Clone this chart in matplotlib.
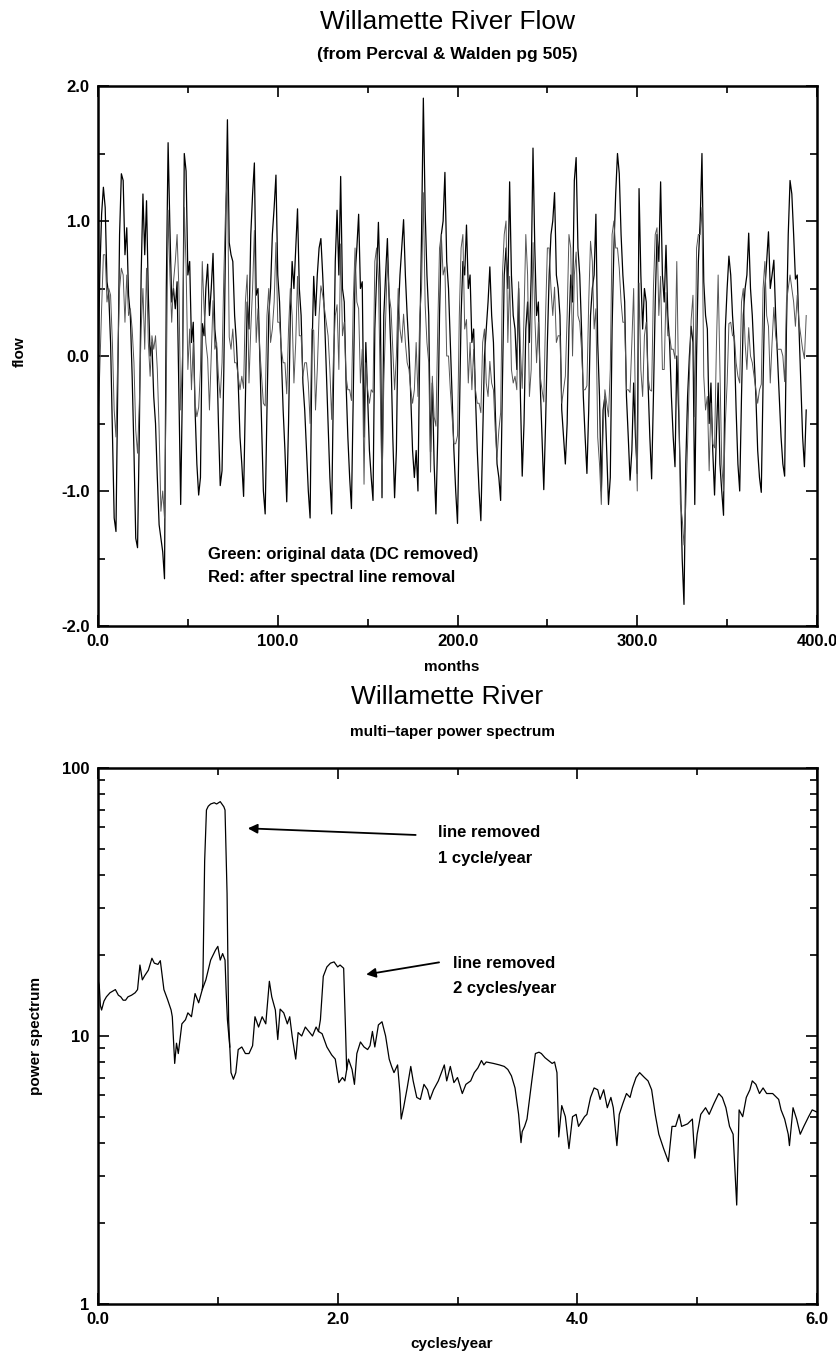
import numpy as np
import matplotlib
matplotlib.use("Agg")
import matplotlib.pyplot as plt
from matplotlib.ticker import MultipleLocator, FormatStrFormatter, FixedLocator, FixedFormatter, LogLocator, NullFormatter

plt.rcParams['font.family'] = ['Liberation Sans', 'DejaVu Sans']

# --- top panel: monthly flow, 395 months ---
flow_orig = [
    -0.10, 0.60, 1.05, 1.25, 1.10, 0.55, 0.45, 0.10, -0.55, -1.20, -1.30, -0.20,
    0.90, 1.35, 1.30, 0.75, 0.95, 0.45, 0.30, -0.15, -0.70, -1.35, -1.42, -0.55,
    0.60, 1.20, 0.75, 1.15, 0.45, 0.00, 0.10, -0.30, -0.50, -0.90, -1.25, -1.35,
    -1.45, -1.65, 0.50, 1.58, 0.95, 0.40, 0.50, 0.35, 0.55, -0.30, -1.10, -0.20,
    1.50, 1.37, 0.60, 0.70, 0.10, 0.25, -0.40, -0.80, -1.03, -0.90, 0.24, 0.15,
    0.50, 0.68, 0.30, 0.50, 0.76, 0.20, 0.05, -0.50, -0.96, -0.85, -0.10, 0.90,
    1.75, 0.84, 0.75, 0.70, 0.30, 0.10, -0.20, -0.60, -0.80, -1.04, -0.30, 0.40,
    0.20, 0.90, 1.20, 1.43, 0.45, 0.50, 0.00, -0.50, -1.00, -1.17, -0.40, 0.30,
    0.50, 0.90, 1.10, 1.34, 0.60, 0.40, 0.00, -0.40, -0.70, -1.08, -0.50, 0.30,
    0.70, 0.50, 0.80, 1.09, 0.50, 0.30, -0.20, -0.40, -0.70, -1.00, -1.20, 0.00,
    0.59, 0.30, 0.60, 0.80, 0.87, 0.60, 0.30, -0.10, -0.50, -0.90, -1.17, -0.20,
    0.70, 1.08, 0.60, 1.33, 0.50, 0.40, -0.20, -0.60, -0.90, -1.13, -0.30, 0.60,
    0.80, 1.05, 0.50, 0.55, -0.60, 0.10, -0.30, -0.70, -0.90, -1.07, 0.20, 0.60,
    0.99, 0.50, -1.05, 0.30, 0.60, 0.87, 0.40, 0.00, -0.60, -1.05, -0.70, 0.30,
    0.60, 0.80, 1.01, 0.60, 0.30, 0.05, -0.30, -0.70, -0.90, -0.70, -1.00, 0.10,
    0.90, 1.91, 1.08, 0.60, 0.30, -0.71, -0.20, -0.80, -1.17, -0.60, 0.30, 0.90,
    1.00, 1.36, 0.70, 0.50, 0.10, -0.30, -0.70, -1.00, -1.24, -0.50, 0.30, 0.70,
    0.60, 0.97, 0.50, 0.60, 0.10, 0.20, -0.30, -0.70, -1.00, -1.22, -0.60, 0.00,
    0.20, 0.40, 0.66, 0.30, 0.10, -0.40, -0.80, -0.90, -1.07, -0.20, 0.60, 0.80,
    0.50, 1.29, 0.60, 0.30, 0.20, -0.10, 0.50, -0.30, -0.89, -0.50, 0.20, 0.40,
    0.10, 0.60, 1.54, 0.80, 0.30, 0.40, -0.20, -0.60, -0.99, -0.50, 0.10, 0.60,
    0.90, 1.00, 1.21, 0.60, 0.50, 0.30, -0.40, -0.60, -0.80, -0.50, 0.20, 0.60,
    0.40, 1.30, 1.47, 0.80, 0.60, 0.20, -0.30, -0.60, -0.87, -0.40, 0.30, 0.50,
    0.60, 1.05, 0.10, -0.30, -1.00, -0.40, -0.30, -0.70, -1.10, -0.90, 0.20, 0.80,
    1.20, 1.50, 1.35, 0.90, 0.60, 0.40, -0.30, -0.60, -0.92, -0.70, -0.20, -0.60,
    -0.87, 1.24, 0.60, 0.20, 0.50, 0.40, -0.20, -0.60, -0.91, -0.30, 0.40, 0.90,
    0.70, 1.29, 0.60, 0.40, 0.82, 0.30, 0.10, -0.30, -0.60, -0.82, 0.00, -0.40,
    -0.90, -1.50, -1.84, -0.80, -0.30, 0.00, 0.22, 0.10, -1.10, 0.00, 0.70, 1.00,
    1.50, 0.55, 0.30, 0.20, -0.50, -0.20, -0.70, -1.03, -0.60, -0.20, -0.80, -1.00,
    -1.18, 0.20, 0.50, 0.74, 0.60, 0.30, 0.10, -0.40, -0.80, -1.00, -0.30, 0.30,
    0.50, 0.60, 0.91, 0.50, 0.30, 0.00, -0.30, -0.70, -0.90, -1.01, -0.20, 0.50,
    0.70, 0.92, 0.50, 0.60, 0.71, 0.30, 0.00, -0.30, -0.60, -0.80, -0.89, 0.20,
    0.90, 1.30, 1.20, 0.90, 0.57, 0.60, 0.20, -0.20, -0.60, -0.82, -0.40,
]

flow_clean = [
    -0.50, -0.10, 0.35, 0.75, 0.75, 0.40, 0.50, 0.45, 0.10, -0.40, -0.60, 0.00,
    0.50, 0.65, 0.60, 0.25, 0.60, 0.30, 0.35, 0.20, -0.05, -0.55, -0.72, -0.35,
    0.20, 0.50, 0.05, 0.65, 0.10, -0.15, 0.15, 0.05, 0.15, -0.10, -0.55, -1.15,
    -1.00, -1.20, -0.20, 1.08, 0.60, 0.25, 0.55, 0.70, 0.90, 0.50, -0.40, 0.00,
    1.10, 0.67, -0.10, 0.20, -0.25, 0.10, -0.35, -0.45, -0.38, -0.10, 0.70, 0.35,
    0.10, -0.02, -0.40, 0.00, 0.41, 0.05, 0.10, -0.15, -0.31, -0.05, 0.60, 1.10,
    1.35, 0.14, 0.05, 0.20, -0.05, -0.05, -0.15, -0.25, -0.15, -0.24, 0.40, 0.60,
    -0.20, 0.20, 0.50, 0.93, 0.10, 0.35, 0.05, -0.15, -0.35, -0.37, 0.30, 0.50,
    0.10, 0.20, 0.40, 0.84, 0.25, 0.25, 0.05, -0.05, -0.05, -0.28, 0.20, 0.50,
    0.30, -0.20, 0.10, 0.59, 0.15, 0.15, -0.15, -0.05, -0.05, -0.20, -0.50, 0.20,
    0.19, -0.40, -0.10, 0.30, 0.52, 0.45, 0.35, 0.25, 0.15, -0.10, -0.47, 0.00,
    0.30, 0.38, -0.10, 0.83, 0.15, 0.25, -0.15, -0.25, -0.25, -0.33, 0.40, 0.80,
    0.40, 0.35, -0.20, 0.05, -0.95, -0.05, -0.25, -0.35, -0.25, -0.27, 0.70, 0.80,
    0.59, -0.20, -1.00, -0.20, 0.25, 0.72, 0.45, 0.35, 0.05, -0.25, 0.00, 0.50,
    0.20, 0.10, 0.31, 0.10, -0.05, -0.10, -0.25, -0.35, -0.25, 0.10, -0.30, 0.30,
    0.50, 1.21, 0.38, 0.10, -0.05, -0.86, -0.15, -0.45, -0.52, 0.20, 0.80, 0.90,
    0.60, 0.66, 0.00, 0.00, -0.25, -0.45, -0.65, -0.65, -0.59, 0.30, 0.80, 0.90,
    0.20, 0.27, -0.20, 0.10, -0.25, 0.05, -0.25, -0.35, -0.35, -0.42, 0.10, 0.20,
    -0.20, -0.30, -0.04, -0.20, -0.25, -0.55, -0.75, -0.55, -0.42, 0.60, 0.90, 1.00,
    0.10, 0.59, -0.10, -0.20, -0.15, -0.25, 0.55, 0.05, -0.24, 0.30, 0.90, 0.60,
    -0.30, -0.10, 0.84, 0.30, -0.05, 0.25, -0.15, -0.25, -0.34, 0.30, 0.80, 0.80,
    0.50, 0.30, 0.51, 0.10, 0.15, 0.15, -0.35, -0.25, -0.15, 0.30, 0.90, 0.80,
    0.00, 0.60, 0.77, 0.30, 0.25, 0.05, -0.25, -0.25, -0.22, 0.40, 0.85, 0.70,
    0.20, 0.35, -0.60, -0.80, -1.10, -0.55, -0.25, -0.35, -0.45, -0.10, 0.90, 1.00,
    0.80, 0.80, 0.65, 0.40, 0.25, 0.25, -0.25, -0.25, -0.27, 0.10, 0.50, -0.40,
    -1.00, 0.54, -0.10, -0.30, 0.15, 0.25, -0.15, -0.25, -0.26, 0.50, 0.90, 0.95,
    0.30, 0.59, -0.10, -0.10, 0.47, 0.15, 0.15, 0.05, 0.05, -0.02, 0.70, -0.20,
    -1.10, -1.20, -1.40, -1.10, -0.65, -0.15, 0.27, 0.45, -0.45, 0.80, 0.90, 0.90,
    1.10, -0.15, -0.40, -0.30, -0.85, -0.35, -0.65, -0.68, 0.05, 0.60, -0.10, -0.80,
    -1.00, -0.50, -0.20, 0.24, 0.25, 0.15, 0.15, -0.05, -0.15, -0.20, 0.40, 0.50,
    0.10, -0.10, 0.21, 0.00, -0.05, -0.15, -0.25, -0.35, -0.25, -0.21, 0.50, 0.70,
    0.30, 0.22, -0.20, 0.10, 0.36, 0.15, 0.05, 0.05, 0.05, 0.00, -0.19, 0.40,
    0.50, 0.60, 0.50, 0.40, 0.22, 0.45, 0.25, 0.15, 0.05, -0.02, 0.30,
]
months = np.arange(len(flow_orig))

# --- bottom panel: multi-taper spectrum after line removal ---
spec_freq = [
    0.00, 0.01, 0.02, 0.03, 0.05, 0.07, 0.10, 0.145, 0.17, 0.19, 0.21, 0.23, 0.25, 0.28, 0.31, 0.33,
    0.35, 0.37, 0.39, 0.42, 0.45, 0.47, 0.50, 0.52, 0.55, 0.58, 0.61, 0.62, 0.64, 0.655, 0.67, 0.70,
    0.73, 0.75, 0.78, 0.81, 0.84, 0.87, 0.90, 0.94, 0.98, 1.00, 1.02, 1.04, 1.06, 1.07, 1.08, 1.10,
    1.11, 1.13, 1.15, 1.17, 1.20, 1.23, 1.26, 1.29, 1.31, 1.34, 1.37, 1.40, 1.43, 1.45, 1.48, 1.50,
    1.52, 1.55, 1.58, 1.60, 1.62, 1.65, 1.67, 1.70, 1.73, 1.76, 1.79, 1.82, 1.84, 1.87, 1.91, 1.95,
    1.98, 2.01, 2.04, 2.06, 2.09, 2.12, 2.14, 2.16, 2.19, 2.22, 2.25, 2.27, 2.29, 2.31, 2.34, 2.37,
    2.40, 2.43, 2.45, 2.47, 2.50, 2.52, 2.53, 2.55, 2.58, 2.61, 2.63, 2.66, 2.69, 2.72, 2.75, 2.77,
    2.80, 2.84, 2.89, 2.91, 2.94, 2.97, 3.00, 3.04, 3.07, 3.11, 3.14, 3.17, 3.20, 3.22, 3.24, 3.30,
    3.35, 3.39, 3.42, 3.45, 3.48, 3.51, 3.53, 3.54, 3.56, 3.58, 3.62, 3.65, 3.68, 3.70, 3.73, 3.76,
    3.79, 3.81, 3.83, 3.845, 3.87, 3.90, 3.93, 3.96, 3.99, 4.01, 4.06, 4.08, 4.11, 4.14, 4.17, 4.19,
    4.22, 4.25, 4.28, 4.30, 4.33, 4.35, 4.38, 4.41, 4.44, 4.46, 4.49, 4.52, 4.56, 4.59, 4.62, 4.65,
    4.68, 4.72, 4.76, 4.79, 4.82, 4.85, 4.87, 4.92, 4.96, 4.98, 5.00, 5.03, 5.07, 5.10, 5.14, 5.18,
    5.21, 5.24, 5.27, 5.30, 5.33, 5.35, 5.38, 5.41, 5.44, 5.46, 5.49, 5.52, 5.55, 5.58, 5.63, 5.68,
    5.70, 5.73, 5.76, 5.77, 5.80, 5.83, 5.86, 5.89, 5.93, 5.96, 6.00,
]
spec_power = [
    16.2, 15.5, 13.0, 12.5, 13.5, 14.0, 14.5, 14.9, 14.2, 14.0, 13.6, 13.6, 14.0, 14.2, 14.5, 14.9,
    18.4, 16.2, 16.8, 17.6, 19.5, 18.7, 18.5, 19.1, 14.9, 13.7, 12.5, 11.8, 7.9, 9.4, 8.6, 11.1,
    11.5, 12.2, 11.8, 14.4, 13.3, 14.9, 16.2, 19.2, 20.9, 21.6, 19.2, 20.3, 19.2, 14.4, 11.5, 9.1,
    7.3, 6.9, 7.3, 8.9, 9.1, 8.6, 8.6, 9.2, 11.8, 10.8, 11.8, 11.1, 16.0, 14.0, 12.5, 9.7,
    12.6, 12.2, 11.1, 11.8, 10.0, 8.2, 10.3, 10.0, 10.8, 10.4, 10.0, 10.8, 10.4, 10.2, 9.1, 8.5,
    8.2, 6.7, 7.0, 6.8, 8.2, 7.5, 6.6, 8.6, 9.5, 9.1, 8.9, 9.2, 10.4, 9.1, 11.0, 11.3,
    10.0, 8.2, 7.7, 7.3, 7.8, 6.1, 4.9, 5.4, 6.4, 7.7, 6.8, 5.9, 5.8, 6.6, 6.3, 5.8,
    6.3, 6.8, 7.8, 6.8, 7.7, 6.7, 7.0, 6.1, 6.6, 6.8, 7.3, 7.6, 8.1, 7.8, 8.0, 7.9,
    7.8, 7.7, 7.5, 7.1, 6.4, 5.1, 4.0, 4.4, 4.6, 4.9, 6.8, 8.6, 8.7, 8.6, 8.3, 8.1,
    7.9, 8.0, 7.3, 4.2, 5.5, 5.0, 3.8, 5.0, 5.1, 4.6, 5.0, 5.1, 5.9, 6.4, 6.3, 5.8,
    6.3, 5.4, 5.9, 5.4, 3.9, 5.1, 5.6, 6.1, 5.9, 6.4, 7.0, 7.3, 7.0, 6.8, 6.3, 5.1,
    4.3, 3.8, 3.4, 4.6, 4.6, 5.1, 4.6, 4.7, 4.9, 3.5, 4.3, 5.1, 5.4, 5.1, 5.6, 6.1,
    5.9, 5.4, 4.6, 4.3, 2.34, 5.3, 5.0, 5.9, 6.3, 6.8, 6.6, 6.1, 6.4, 6.1, 6.1, 5.8,
    5.3, 4.9, 4.3, 3.9, 5.4, 4.9, 4.3, 4.6, 5.0, 5.3, 5.2,
]

# original spectrum where it differs (the two removed lines)
line1_freq = [0.87, 0.875, 0.89, 0.905, 0.92, 0.94, 0.97, 0.99, 1.02, 1.05, 1.06, 1.077, 1.09, 1.10]
line1_power = [14.9, 15.7, 45.0, 69.7, 72.0, 73.4, 74.2, 73.4, 74.9, 71.7, 69.7, 34.0, 11.5, 9.1]
line2_freq = [1.84, 1.856, 1.88, 1.91, 1.94, 1.97, 2.00, 2.02, 2.05, 2.065, 2.075]
line2_power = [10.4, 11.5, 16.7, 18.1, 18.7, 18.9, 18.1, 18.4, 17.9, 10.8, 7.5]

W, H = 836, 1359
fig = plt.figure(figsize=(W / 100, H / 100), dpi=100)

def place(l, t, r, b):
    return [l / W, 1 - b / H, (r - l) / W, (b - t) / H]

tick_font = dict(fontsize=12, fontweight='bold')

# ---------- top panel ----------
ax1 = fig.add_axes(place(98, 86, 817, 626))
ax1.plot(months, flow_orig, color='black', lw=0.9)
ax1.plot(months, flow_clean, color='#555555', lw=0.7)
ax1.set_xlim(0, 400)
ax1.set_ylim(-2, 2)
ax1.xaxis.set_major_locator(MultipleLocator(100))
ax1.xaxis.set_minor_locator(MultipleLocator(50))
ax1.yaxis.set_major_locator(MultipleLocator(1))
ax1.yaxis.set_minor_locator(MultipleLocator(0.5))
ax1.xaxis.set_major_formatter(FormatStrFormatter('%.1f'))
ax1.yaxis.set_major_formatter(FormatStrFormatter('%.1f'))
ax1.text(61, -1.47, "Green: original data (DC removed)", fontsize=12, fontweight='bold', va='center')
ax1.text(61, -1.64, "Red: after spectral line removal", fontsize=12, fontweight='bold', va='center')

# ---------- bottom panel ----------
ax2 = fig.add_axes(place(98, 768, 817, 1304))
ax2.plot(spec_freq, spec_power, color='black', lw=0.9)
ax2.plot(line1_freq, line1_power, color='black', lw=0.9)
ax2.plot(line2_freq, line2_power, color='black', lw=0.9)
ax2.set_yscale('log')
ax2.set_xlim(0, 6)
ax2.set_ylim(1, 100)
ax2.xaxis.set_major_locator(MultipleLocator(2))
ax2.xaxis.set_minor_locator(MultipleLocator(1))
ax2.xaxis.set_major_formatter(FormatStrFormatter('%.1f'))
ax2.yaxis.set_major_locator(FixedLocator([1, 10, 100]))
ax2.yaxis.set_major_formatter(FixedFormatter(['1', '10', '100']))
ax2.yaxis.set_minor_locator(LogLocator(base=10, subs=np.arange(2, 10)))
ax2.yaxis.set_minor_formatter(NullFormatter())

ax2.annotate("", xy=(1.227, 59.6), xytext=(2.674, 56.2),
             arrowprops=dict(arrowstyle='-|>', color='black', lw=1.3, mutation_scale=14))
ax2.text(2.84, 57.6, "line removed", fontsize=12, fontweight='bold', va='center')
ax2.text(2.84, 46.1, "1 cycle/year", fontsize=12, fontweight='bold', va='center')
ax2.annotate("", xy=(2.215, 16.9), xytext=(2.869, 18.9),
             arrowprops=dict(arrowstyle='-|>', color='black', lw=1.3, mutation_scale=14))
ax2.text(2.96, 18.7, "line removed", fontsize=12, fontweight='bold', va='center')
ax2.text(2.96, 15.1, "2 cycles/year", fontsize=12, fontweight='bold', va='center')

for ax in (ax1, ax2):
    for s in ax.spines.values():
        s.set_linewidth(1.8)
    ax.tick_params(which='both', direction='in', top=True, right=True, width=1.2)
    ax.tick_params(which='major', length=8, labelsize=12, pad=6)
    ax.tick_params(which='minor', length=5)
    for lab in ax.get_xticklabels() + ax.get_yticklabels():
        lab.set_fontweight('bold')

# ---------- titles and labels ----------
fig.text(447 / W, 1 - 22 / H, "Willamette River Flow", fontsize=19, ha='center', va='center')
fig.text(447 / W, 1 - 54 / H, "(from Percval & Walden pg 505)", fontsize=12.5, fontweight='bold',
         ha='center', va='center')
fig.text(452 / W, 1 - 667 / H, "months", fontsize=11, fontweight='bold', ha='center', va='center')
fig.text(447 / W, 1 - 697 / H, "Willamette River", fontsize=19, ha='center', va='center')
fig.text(452 / W, 1 - 732 / H, "multi\u2013taper power spectrum", fontsize=11, fontweight='bold',
         ha='center', va='center')
fig.text(452 / W, 1 - 1344 / H, "cycles/year", fontsize=11, fontweight='bold', ha='center', va='center')
fig.text(20 / W, 1 - 352 / H, "flow", fontsize=11, fontweight='bold', rotation=90, ha='center', va='center')
fig.text(36 / W, 1 - 1036 / H, "power spectrum", fontsize=11, fontweight='bold', rotation=90,
         ha='center', va='center')

fig.savefig("out.png", dpi=100)
